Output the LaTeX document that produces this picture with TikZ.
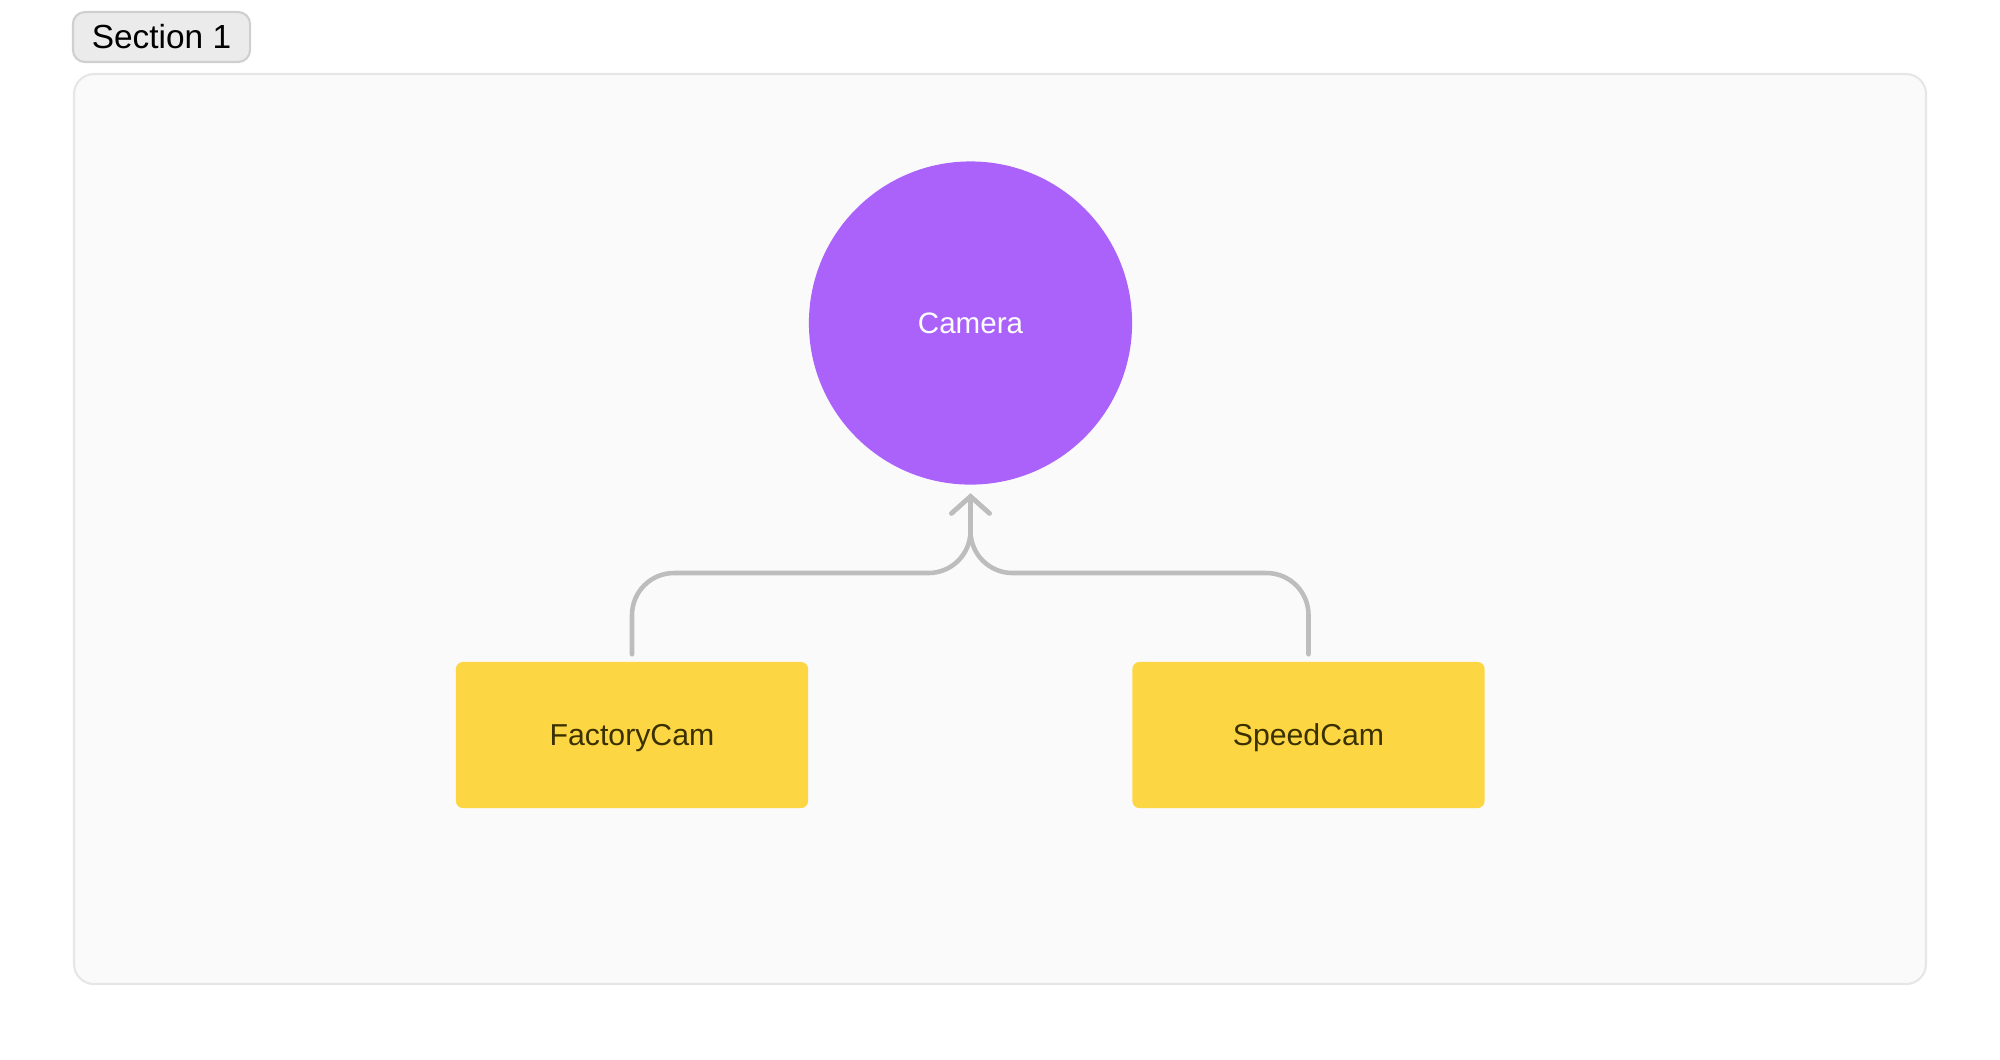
\documentclass[tikz,border=0pt]{standalone}
\usepackage{fontspec}
\setmainfont{Liberation Sans}
\usetikzlibrary{arrows.meta}
\usetikzlibrary{calc}
\definecolor{camfill}{HTML}{AB62FA}
\definecolor{boxfill}{HTML}{FDD643}
\definecolor{boxtext}{HTML}{3B3000}
\definecolor{linkgray}{HTML}{BDBDBD}
\definecolor{panelfill}{HTML}{FAFAFA}
\definecolor{panelline}{HTML}{E6E6E6}
\definecolor{tagfill}{HTML}{EBEBEB}
\definecolor{tagline}{HTML}{CFCFCF}
\tikzset{
	classbox/.style={fill=boxfill, rounded corners=0.07cm, minimum width=3.52cm,
		minimum height=1.46cm, text=boxtext, text depth=0pt, font=\fontsize{8.6}{10}\selectfont},
	baseclass/.style={circle, fill=camfill, minimum size=3.23cm, text=white,
		font=\fontsize{8.4}{10}\selectfont},
	link/.style={draw=linkgray, line width=1.3pt, line cap=round, rounded corners=0.42cm,
		-{Straight Barb[length=0.17cm, width=0.38cm, line cap=round]}}
}

\begin{document}
\begin{tikzpicture}[x=0.01cm, y=-0.01cm]
	% page: 2000 x 1059 px, 1px = 0.1mm
	\useasboundingbox (0,0) rectangle (2000,1059);
	% section panel
	\draw[fill=panelfill, draw=panelline, line width=0.6pt, rounded corners=0.2cm]
		(74,74) rectangle (1926,984);
	\node[fill=tagfill, draw=tagline, line width=0.6pt, rounded corners=0.12cm,
		minimum width=1.77cm, minimum height=0.5cm, font=\fontsize{9.5}{11}\selectfont]
		(tag) at (161.5,37) {Section 1};
	% classes
	\node[baseclass] (cam) at (970.5,323) {Camera};
	\node[classbox] (fac) at (632,735) {FactoryCam};
	\node[classbox] (spd) at (1308.5,735) {SpeedCam};
	% inheritance links
	\coordinate (join) at (970.5,573);
	\draw[link, shorten <=0.07cm, shorten >=0.08cm] (fac.north) |- (join) -- (cam.south);
	\draw[link, shorten <=0.07cm, shorten >=0.08cm] (spd.north) |- (join) -- (cam.south);
\end{tikzpicture}
\end{document}
